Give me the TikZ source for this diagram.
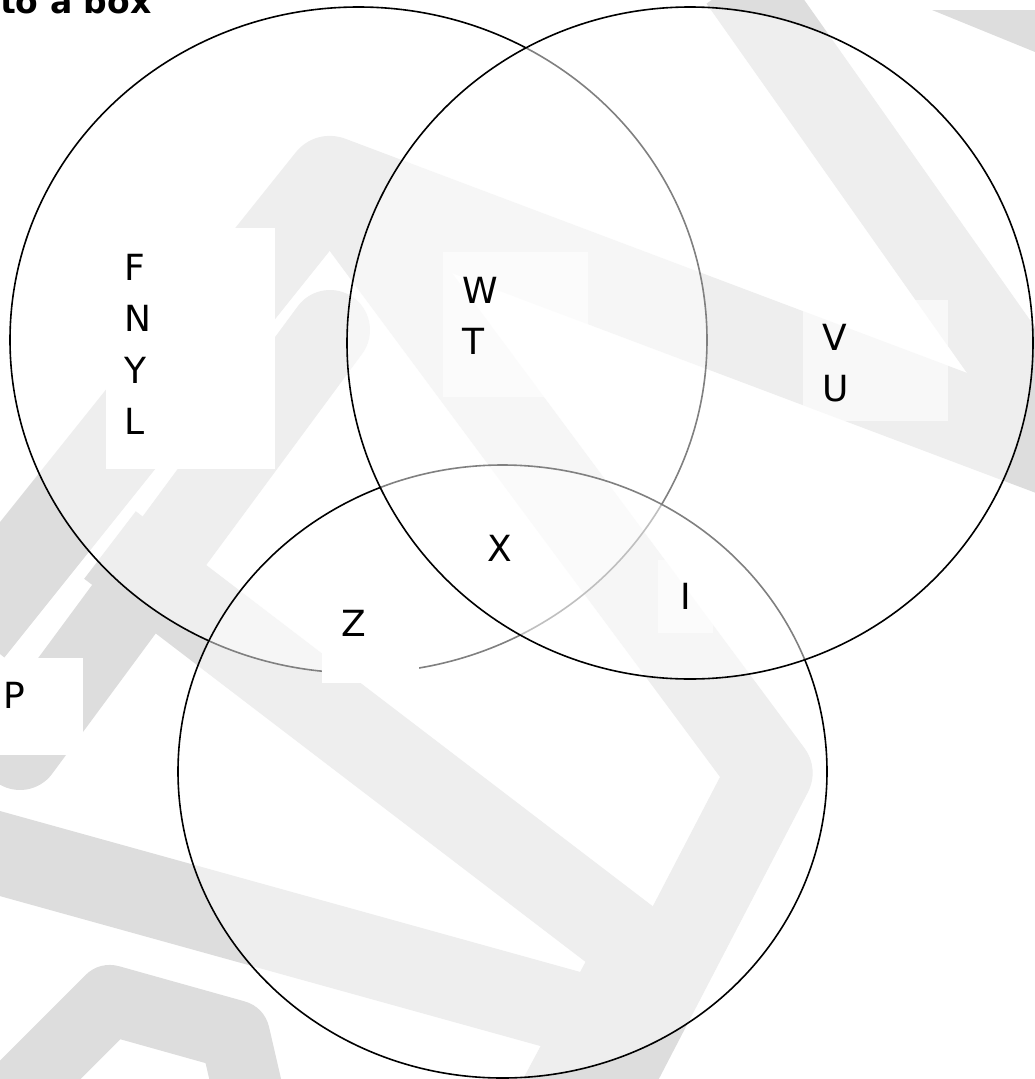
\documentclass[tikz,border=0pt]{standalone}
\usepackage{fontspec}
\setmainfont{DejaVu Sans}
\usetikzlibrary{positioning}
\definecolor{wmgray}{HTML}{DDDDDD}

\begin{document}
\begin{tikzpicture}[
  x=1pt, y=-1pt,
  every node/.style={font=\fontsize{36}{51.5}\selectfont, inner sep=0pt},
  band/.style={draw=wmgray, line width=#1, line join=round},
  venn/.style={draw=black, line width=1.6pt, fill=white, fill opacity=0.5},
  lblbox/.style={fill=white, anchor=north west, inner sep=0pt},
  lbl/.style={align=left, anchor=north west}
]
  \useasboundingbox (0,0) rectangle (1035,1079);
  \clip (0,0) rectangle (1035,1079);

  % watermark in the back
  \draw[band=88pt] (-30,630) -- (330,180) -- (1060,455);
  \draw[band=82pt] (740,-20) -- (1075,455);
  \fill[wmgray] (932,10) -- (1035,10) -- (1035,52) -- cycle;
  \draw[band=85pt] (330,180) -- (770,773) -- (600,1100);
  \draw[band=80pt, line cap=round] (330,330) -- (20,750);
  \draw[band=85pt] (110,545) -- (640,950) -- (560,1100);
  \draw[band=82pt] (-20,848) -- (600,1020);
  \draw[band=70pt] (0,1110) -- (110,1000) -- (235,1035) -- (250,1100);

  % the three sets
  \draw[venn] (358.5,340) ellipse [x radius=348.5pt, y radius=333pt];
  \draw[venn] (502.5,771.5) ellipse [x radius=324.5pt, y radius=306.5pt];
  \draw[venn] (690,343) ellipse [x radius=343pt, y radius=336pt];

  % label boxes
  \node[lblbox, minimum width=169pt, minimum height=241pt] (boxA) at (106,228) {};
  \node[lblbox, fill opacity=0.6, minimum width=145pt, minimum height=145pt] (boxAB) at (443,252) {};
  \node[lblbox, fill opacity=0.6, minimum width=145pt, minimum height=121pt] (boxB) at (803,300) {};
  \node[lblbox, fill opacity=0.6, minimum width=55pt, minimum height=73pt] (boxBC) at (658,560) {};
  \node[lblbox, minimum width=97pt, minimum height=97pt] (boxAC) at (322,586) {};
  \node[lblbox, minimum width=99pt, minimum height=97pt] (boxP) at (-16,658) {};

  % labels
  \node[lbl, below right=26pt and 18pt of boxA.north west] (setA) {F\\N\\Y\\L};
  \node[lbl, below right=25pt and 19pt of boxAB.north west] (setAB) {W\\T};
  \node[lbl, below right=24pt and 19pt of boxB.north west] (setB) {V\\U};
  \node[lbl, below right=23pt and 22pt of boxBC.north west] (setBC) {I};
  \node[lbl, below right=24pt and 19pt of boxAC.north west] (setAC) {Z};
  \node[lbl, below right=24pt and 19pt of boxP.north west] (outside) {P};
  \node[lbl] (setABC) at (487,535) {X};

  \node[anchor=base west, font=\fontsize{33}{40}\selectfont\bfseries] (cap) at (0,13) {to a box};
\end{tikzpicture}
\end{document}
